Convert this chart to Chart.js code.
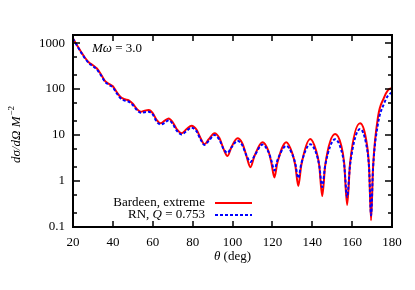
<!DOCTYPE html>
<html>
<head>
<meta charset="utf-8">
<script src="https://cdn.jsdelivr.net/npm/chart.js@4/dist/chart.umd.min.js"></script>
<style>
html,body{margin:0;padding:0;background:#fff;}
#wrap{width:415px;height:290px;position:relative;}
</style>
</head>
<body>
<div id="wrap"><canvas id="c" width="415" height="290"></canvas></div>
<script>
// ---- data ----
const thetaBardeen = [20,22,24,26,28,30,32,34,36,38,40,42,44,46,48,50,52,54,56,58,60,62,64,66,68,70,72,74.5,77,79.5,82,84,86,88,91,93.5,95.5,97.5,99.5,102.5,105,107,109,111,115,118,119.5,121,122.5,127,130,131.5,133,134.5,139,142,143.5,145,146.5,151.5,154.5,156,157.5,159,164,167,168.5,169.5,170.5,173,176,178,180];
const sigmaBardeen = [1250,900,650,480,380,330,280,210,150,130,115,85,66,60,57,48,37,32,34,35,30,21,18,20.5,23,19,13.5,11,13.5,16,13,8.5,6.3,8,11,8.5,5,3.5,5.5,8.5,6.5,3.5,2.0,3.5,7,4.5,2.5,1.2,2.5,7,4,2.2,0.78,2.2,8.2,4.5,2.2,0.47,2.2,10.5,6,2.5,0.3,2.5,18,8,2,0.14,2,25,65,95,105];
const thetaRN = [20,22,24,26,28,30,32,34,36,38,40,42,44,46,48,50,52,54,56,58,60,62,64,66,68,70,72,74.5,77,79.5,82,84,86,88,91,93.5,95.5,97.5,99.5,102.5,105,107,109,111,115,118,119.5,121,122.5,127,130,131.5,133,134.5,139,142,143.5,145,146.5,151.5,154.5,156,157.5,159,164,167,168.5,169.5,170.5,173,176,178,180];
const sigmaRN = [1250,880,630,465,365,315,265,200,145,124,108,80,62,56,53,45,35,30.5,31.5,32,28,19.5,17,18.5,21,17.5,12.5,10.3,12.3,14.5,12,8,6.1,7.4,10,7.8,5,4.1,5.4,7.5,5.9,3.6,2.6,3.5,6.2,4.3,2.8,1.7,2.8,5.8,3.8,2.4,1.16,2.4,6.3,4.0,2.2,0.74,2.2,8.1,4.8,2.3,0.45,2.3,13.5,6.5,1.9,0.18,1.9,18,48,72,85];
const xTicks = [20,40,60,80,100,120,140,160,180];
const yTicks = [0.1,1,10,100,1000];
const yTickLabels = ['0.1','1','10','100','1000'];
const yMinorMult = [2,5];
const seriesNames = ['Bardeen, extreme','RN, Q = 0.753'];

const SERIF = '"Liberation Serif","DejaVu Serif",serif';

function pts(xs, ys){ return xs.map((x,i)=>({x:x,y:ys[i]})); }

const decor = {
  id:'decor',
  afterDraw(chart){
    const ctx = chart.ctx, a = chart.chartArea;
    const xs = chart.scales.x, ys = chart.scales.y;
    ctx.save();
    ctx.strokeStyle = '#000';
    // ticks (inward, all four sides)
    ctx.lineWidth = 1.5;
    ctx.beginPath();
    xTicks.forEach(v=>{
      const px = Math.round(xs.getPixelForValue(v));
      ctx.moveTo(px, a.bottom); ctx.lineTo(px, a.bottom-6);
      ctx.moveTo(px, a.top); ctx.lineTo(px, a.top+6);
    });
    yTicks.forEach(v=>{
      const py = Math.round(ys.getPixelForValue(v));
      ctx.moveTo(a.left, py); ctx.lineTo(a.left+7, py);
      ctx.moveTo(a.right, py); ctx.lineTo(a.right-7, py);
    });
    yTicks.forEach(v=>{
      yMinorMult.forEach(m=>{
        const val = v*m;
        if (val > ys.max) return;
        const py = Math.round(ys.getPixelForValue(val));
        ctx.moveTo(a.left, py); ctx.lineTo(a.left+4, py);
        ctx.moveTo(a.right, py); ctx.lineTo(a.right-4, py);
      });
    });
    ctx.stroke();
    // frame
    ctx.lineWidth = 2;
    ctx.strokeRect(a.left, a.top, a.right-a.left, a.bottom-a.top);

    ctx.fillStyle = '#000';
    ctx.textBaseline = 'middle';
    // annotation M omega = 3.0
    let x = 92, y = 49;
    ctx.textAlign = 'left';
    ctx.font = 'italic 13px ' + SERIF;
    ctx.fillText('M\u03C9', x, y);
    x += ctx.measureText('M\u03C9').width;
    ctx.font = '13px ' + SERIF;
    ctx.fillText(' = 3.0', x, y);

    // legend
    const lx = 205;
    ctx.textAlign = 'right';
    ctx.font = '13px ' + SERIF;
    ctx.fillText('Bardeen, extreme', lx, 203);
    // RN, Q = 0.753 (Q italic)
    const p3 = ' = 0.753', p1 = 'RN, ';
    ctx.font = '13px ' + SERIF;
    const w3 = ctx.measureText(p3).width;
    ctx.fillText(p3, lx, 215);
    ctx.font = 'italic 13px ' + SERIF;
    const w2 = ctx.measureText('Q').width;
    ctx.fillText('Q', lx - w3, 215);
    ctx.font = '13px ' + SERIF;
    ctx.fillText(p1, lx - w3 - w2, 215);

    ctx.lineWidth = 2;
    ctx.strokeStyle = '#ff0000';
    ctx.beginPath(); ctx.moveTo(215, 203); ctx.lineTo(252, 203); ctx.stroke();
    ctx.strokeStyle = '#0000ff';
    ctx.setLineDash([3,2]);
    ctx.beginPath(); ctx.moveTo(215, 215); ctx.lineTo(252, 215); ctx.stroke();
    ctx.setLineDash([]);

    // x title
    ctx.textAlign = 'left';
    ctx.font = 'italic 13px ' + SERIF;
    const tw = ctx.measureText('\u03B8').width;
    ctx.font = '13px ' + SERIF;
    const rw = ctx.measureText(' (deg)').width;
    let sx = (a.left + a.right)/2 - (tw+rw)/2;
    ctx.font = 'italic 13px ' + SERIF;
    ctx.fillText('\u03B8', sx, 257);
    ctx.font = '13px ' + SERIF;
    ctx.fillText(' (deg)', sx + tw, 257);

    // y title rotated
    ctx.translate(17, 135);
    ctx.rotate(-Math.PI/2);
    ctx.font = 'italic 13px ' + SERIF;
    const main = 'd\u03C3/d\u03A9 M';
    const mw = ctx.measureText(main).width;
    ctx.font = '9px ' + SERIF;
    const sw = ctx.measureText('\u22122').width;
    const tot = mw + sw;
    ctx.font = 'italic 13px ' + SERIF;
    ctx.fillText(main, -tot/2, 0);
    ctx.font = '9px ' + SERIF;
    ctx.fillText('\u22122', -tot/2 + mw + 1, -5);
    ctx.restore();
  }
};

new Chart(document.getElementById('c'), {
  type: 'line',
  data: {
    datasets: [
      { label: seriesNames[1], data: pts(thetaRN, sigmaRN), borderColor:'#0000ff', borderWidth:2, borderDash:[3,2], pointRadius:0, cubicInterpolationMode:'monotone', fill:false, order:0 },
      { label: seriesNames[0], data: pts(thetaBardeen, sigmaBardeen), borderColor:'#ff0000', borderWidth:2, pointRadius:0, cubicInterpolationMode:'monotone', fill:false, order:1 }
    ]
  },
  options: {
    responsive:false, animation:false, devicePixelRatio:1,
    layout:{ padding:{ top:35, right:23, left:0, bottom:0 } },
    plugins:{ legend:{display:false}, tooltip:{enabled:false} },
    scales:{
      x:{
        type:'linear', min:20, max:180,
        afterBuildTicks(s){ s.ticks = xTicks.map(v=>({value:v})); },
        afterFit(s){ s.height = 63; },
        grid:{ display:false, drawTicks:false },
        border:{ display:false },
        ticks:{ color:'#000', font:{ family:SERIF, size:13 }, padding:8, maxRotation:0, autoSkip:false,
          callback:(v)=>String(v) }
      },
      y:{
        type:'logarithmic', min:0.1, max:1500,
        afterBuildTicks(s){ s.ticks = yTicks.map(v=>({value:v})); },
        afterFit(s){ s.width = 73; },
        grid:{ display:false, drawTicks:false },
        border:{ display:false },
        ticks:{ color:'#000', font:{ family:SERIF, size:13 }, padding:8, autoSkip:false,
          callback:(v,i)=>yTickLabels[i] }
      }
    }
  },
  plugins:[decor]
});
</script>
</body>
</html>
